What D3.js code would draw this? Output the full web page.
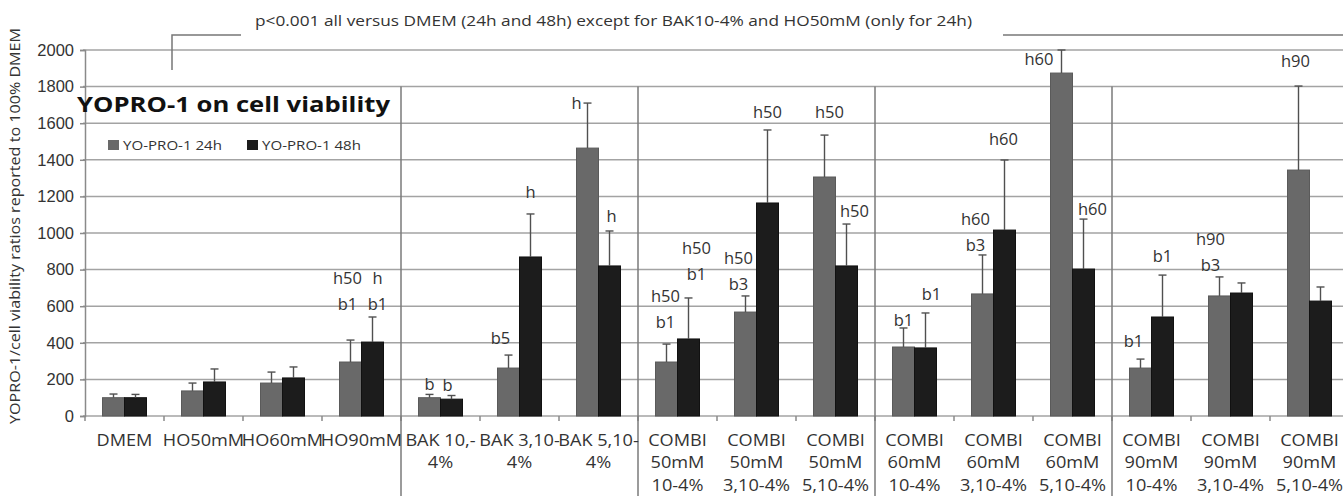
<!DOCTYPE html>
<html>
<head>
<meta charset="utf-8">
<script src="https://cdn.jsdelivr.net/npm/d3@7"></script>
<style>
  html, body { margin: 0; padding: 0; background: #fff; }
  svg { display: block; font-family: 'Open Sans', sans-serif; }
  .grid line { stroke: #a3a3a3; stroke-width: 1.5; }
  .sep { stroke: #7a7a7a; stroke-width: 1.5; }
  .err { stroke: #505050; stroke-width: 1.4; }
  .axis-t { fill: #333; font-size: 16.5px; }
  .cat { fill: #333; font-size: 16.5px; }
  .sig { fill: #333; font-size: 16.5px; }
</style>
</head>
<body>
<div id="chart"></div>
<script>
// categories with their wrapped label lines
const categories = [
  ['DMEM'], ['HO50mM'], ['HO60mM'], ['HO90mM'],
  ['BAK 10,-', '4%'], ['BAK 3,10-', '4%'], ['BAK 5,10-', '4%'],
  ['COMBI', '50mM', '10-4%'], ['COMBI', '50mM', '3,10-4%'], ['COMBI', '50mM', '5,10-4%'],
  ['COMBI', '60mM', '10-4%'], ['COMBI', '60mM', '3,10-4%'], ['COMBI', '60mM', '5,10-4%'],
  ['COMBI', '90mM', '10-4%'], ['COMBI', '90mM', '3,10-4%'], ['COMBI', '90mM', '5,10-4%']
];
// group boundaries (after category index)
const separators = [4, 7, 10, 13];

const series = ['YO-PRO-1 24h', 'YO-PRO-1 48h'];
const values24 = [100, 137, 180, 295, 100, 262, 1464, 295, 568, 1306, 377, 667, 1874, 262, 656, 1344];
const errors24 = [20, 43, 60, 120, 18, 71, 246, 98, 88, 229, 104, 213, 126, 49, 104, 459];
const values48 = [100, 186, 208, 404, 92, 869, 820, 421, 1164, 820, 372, 1016, 803, 541, 672, 628];
const errors48 = [18, 71, 60, 137, 20, 235, 191, 224, 399, 229, 191, 383, 273, 229, 55, 77];

const sig24 = [[], [], [], ['h50', 'b1'], ['b'], ['b5'], ['h'], ['h50', 'b1'], ['h50', 'b3'], ['h50'],
  ['b1'], ['h60', 'b3'], ['h60'], ['b1'], ['h90', 'b3'], ['h90']];
const sig48 = [[], [], [], ['h', 'b1'], ['b'], ['h'], ['h'], ['h50', 'b1'], ['h50'], ['h50'],
  ['b1'], ['h60'], ['h60'], ['b1'], [], []];

const yTicks = [0, 200, 400, 600, 800, 1000, 1200, 1400, 1600, 1800, 2000];

const title = 'YOPRO-1 on cell viability';
const yLabel = 'YOPRO-1/cell viability ratios reported to 100% DMEM';
const note = 'p<0.001 all versus DMEM  (24h and 48h) except for BAK10-4% and HO50mM (only for 24h)';

// label nudges [dx, dy, anchor] relative to error bar top (layout only)
const nudge24 = {3: [-3, -30], 4: [0, -4], 5: [-8, -11], 6: [-6, 6, 'end'], 7: [-1, -16], 8: [-7, -6],
  9: [5, -17], 10: [0, -2], 11: [-7, -4], 12: [-8, 15, 'end'], 13: [-7, -12], 14: [-9, -6], 15: [-3, -19]};
const nudge48 = {3: [5, -7], 4: [-4, -5], 5: [0, -16], 6: [2, -9], 7: [8, -18], 8: [0, -12],
  9: [8, -7], 10: [6, -13], 11: [-1, -15], 12: [9, -4], 13: [0, -13]};

const width = 1343;
const height = 496;
const marginLeft = 85;
const catW = 79;
const yTop = 50;
const yBottom = 416;

const rows = categories.map((c, i) => ({
  i,
  lines: c,
  bars: [
    { s: 0, v: values24[i], e: errors24[i], sig: sig24[i], nudge: nudge24[i] },
    { s: 1, v: values48[i], e: errors48[i], sig: sig48[i], nudge: nudge48[i] }
  ]
}));

const x = d3.scaleBand().domain(d3.range(categories.length))
  .range([marginLeft, marginLeft + catW * categories.length]).padding(0);
const xSub = d3.scaleBand().domain([0, 1]).range([17.5, 61.5]).padding(0);
const y = d3.scaleLinear().domain([0, 2000]).range([yBottom, yTop]);
const color = d3.scaleOrdinal().domain([0, 1]).range(['#696969', '#1c1c1c']);

const $svg = d3.select('#chart').append('svg').attr('width', width).attr('height', height);

// gridlines
$svg.append('g').attr('class', 'grid')
  .selectAll('line').data(yTicks).join('line')
  .attr('x1', marginLeft - 2).attr('x2', width)
  .attr('y1', d => y(d)).attr('y2', d => y(d));

// y axis
const $yAxis = $svg.append('g')
  .attr('transform', `translate(${marginLeft}, 0)`)
  .call(d3.axisLeft(y).tickValues(yTicks).tickSize(5).tickPadding(6).tickFormat(d3.format('d')));
$yAxis.select('.domain').attr('stroke', '#8a8a8a').attr('stroke-width', 1.5);
$yAxis.selectAll('.tick line').attr('stroke', '#8a8a8a').attr('stroke-width', 1.5);
$yAxis.selectAll('.tick text').attr('class', 'axis-t').attr('font-family', null).attr('font-size', null);

// x tick marks at category boundaries
$svg.append('g').selectAll('line').data(d3.range(categories.length + 1)).join('line')
  .attr('x1', d => marginLeft + d * catW).attr('x2', d => marginLeft + d * catW)
  .attr('y1', yBottom).attr('y2', yBottom + 5)
  .attr('stroke', '#8a8a8a').attr('stroke-width', 1.5);

// group separators
$svg.append('g').selectAll('line').data(separators).join('line')
  .attr('class', 'sep')
  .attr('x1', d => x(d)).attr('x2', d => x(d))
  .attr('y1', y(1800)).attr('y2', height);

// bars
const $groups = $svg.append('g').selectAll('g').data(rows).join('g')
  .attr('transform', d => `translate(${x(d.i)}, 0)`);

$groups.selectAll('rect').data(d => d.bars).join('rect')
  .attr('x', d => xSub(d.s)).attr('width', xSub.bandwidth())
  .attr('y', d => y(d.v)).attr('height', d => y(0) - y(d.v))
  .attr('fill', d => color(d.s))
  .attr('stroke', d => d.s ? '#111' : '#5a5a5a').attr('stroke-width', 1);

// error bars (upper only)
const $err = $groups.selectAll('g.errbar').data(d => d.bars).join('g').attr('class', 'errbar');
$err.append('line').attr('class', 'err')
  .attr('x1', d => xSub(d.s) + xSub.bandwidth() / 2).attr('x2', d => xSub(d.s) + xSub.bandwidth() / 2)
  .attr('y1', d => y(d.v)).attr('y2', d => y(Math.min(2000, d.v + d.e)));
$err.append('line').attr('class', 'err')
  .attr('x1', d => xSub(d.s) + xSub.bandwidth() / 2 - 4).attr('x2', d => xSub(d.s) + xSub.bandwidth() / 2 + 4)
  .attr('y1', d => y(Math.min(2000, d.v + d.e))).attr('y2', d => y(Math.min(2000, d.v + d.e)));

// significance letters
$err.filter(d => d.sig.length).each(function(d) {
  const [dx, dy, anchor] = d.nudge || [0, -8];
  const cx = xSub(d.s) + xSub.bandwidth() / 2 + dx;
  const base = y(Math.min(2000, d.v + d.e)) + dy;
  const n = d.sig.length;
  d3.select(this).selectAll('text').data(d.sig).join('text')
    .attr('class', 'sig')
    .attr('x', cx)
    .attr('y', (t, k) => base - (n - 1 - k) * 26)
    .attr('text-anchor', anchor || 'middle')
    .text(t => t);
});

// category labels (slightly stretched like the original)
$groups.append('text').attr('class', 'cat')
  .attr('text-anchor', 'middle')
  .attr('transform', `translate(${catW / 2}, 0) scale(1.1, 1)`)
  .selectAll('tspan').data(d => d.lines).join('tspan')
  .attr('x', 0)
  .attr('y', (t, k) => 446 + k * 22.5)
  .text(t => t);

// y axis title
$svg.append('text')
  .attr('transform', `translate(20, 226) rotate(-90)`)
  .attr('text-anchor', 'middle')
  .attr('font-size', 14.5).attr('fill', '#333')
  .attr('textLength', 396).attr('lengthAdjust', 'spacingAndGlyphs')
  .text(yLabel);

// chart title + legend
$svg.append('text')
  .attr('x', 77).attr('y', 112)
  .attr('font-size', 22).attr('font-weight', 'bold').attr('fill', '#111')
  .attr('textLength', 313).attr('lengthAdjust', 'spacingAndGlyphs')
  .text(title);

const legendX = [108, 247];
const $legend = $svg.append('g').selectAll('g').data(series).join('g')
  .attr('transform', (d, i) => `translate(${legendX[i]}, 140)`);
$legend.append('rect').attr('width', 11).attr('height', 10).attr('y', 0)
  .attr('fill', (d, i) => color(i));
$legend.append('text').attr('x', 15).attr('y', 10)
  .attr('font-size', 12.5).attr('fill', '#333')
  .attr('textLength', 99).attr('lengthAdjust', 'spacingAndGlyphs')
  .text(d => d);

// top note with bracket lines
$svg.append('text')
  .attr('x', 255).attr('y', 26)
  .attr('font-size', 14).attr('fill', '#333')
  .attr('textLength', 717).attr('lengthAdjust', 'spacingAndGlyphs')
  .text(note);
$svg.append('path')
  .attr('d', 'M172,70 V35 H241')
  .attr('fill', 'none').attr('stroke', '#777').attr('stroke-width', 1.5);
$svg.append('line')
  .attr('x1', 1003).attr('x2', width).attr('y1', 35).attr('y2', 35)
  .attr('stroke', '#777').attr('stroke-width', 1.5);
</script>
</body>
</html>
